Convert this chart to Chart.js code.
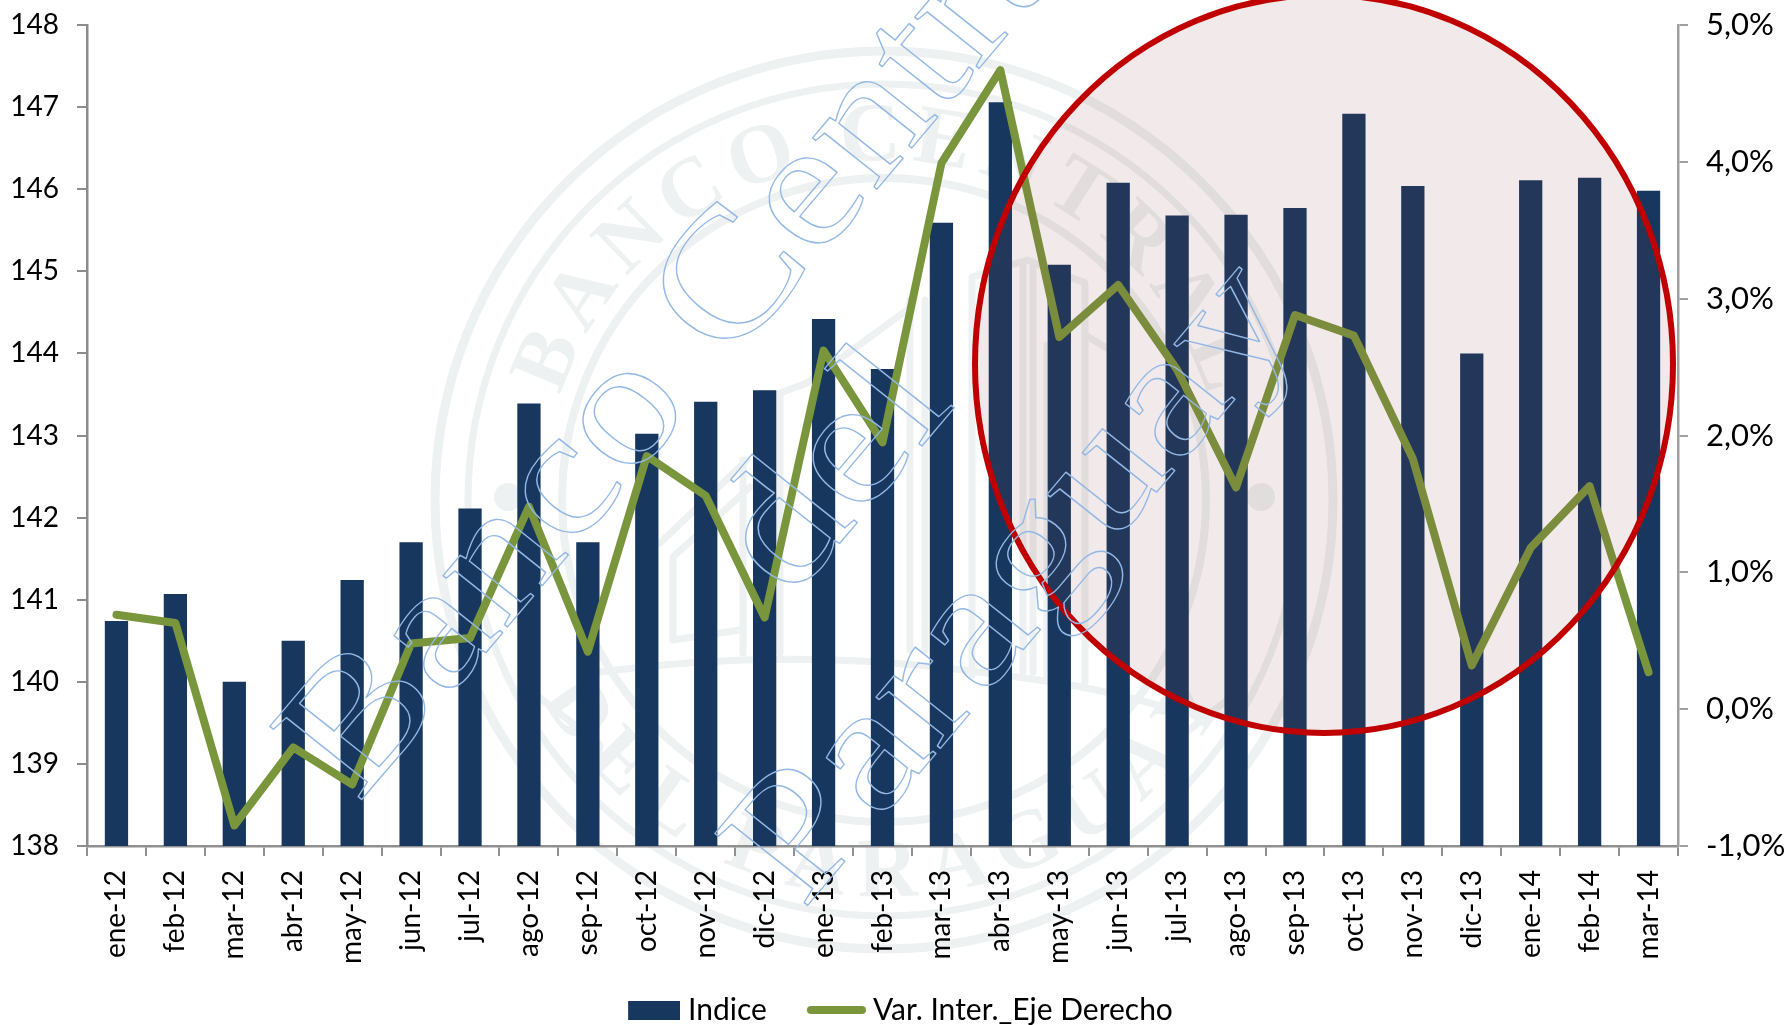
<!DOCTYPE html>
<html><head><meta charset="utf-8">
<style>html,body{margin:0;padding:0;background:#fff}#w{width:1792px;height:1025px}</style>
<script src="https://cdn.jsdelivr.net/npm/chart.js@4"></script></head>
<body><div id="w"><canvas id="c" width="1792" height="1025"></canvas></div>
<script>
const categories=["ene-12","feb-12","mar-12","abr-12","may-12","jun-12","jul-12","ago-12","sep-12","oct-12","nov-12","dic-12","ene-13","feb-13","mar-13","abr-13","may-13","jun-13","jul-13","ago-13","sep-13","oct-13","nov-13","dic-13","ene-14","feb-14","mar-14"];
const indice=[140.74,141.07,140.0,140.5,141.24,141.7,142.11,143.39,141.7,143.02,143.41,143.55,144.42,143.81,145.59,147.06,145.08,146.08,145.68,145.69,145.77,146.92,146.04,144.0,146.11,146.14,145.98];
const varInter=[0.69,0.63,-0.85,-0.28,-0.55,0.48,0.52,1.48,0.42,1.85,1.56,0.67,2.62,1.95,3.99,4.67,2.72,3.10,2.48,1.62,2.88,2.73,1.83,0.32,1.18,1.63,0.27];
const seriesNames=["Indice","Var. Inter._Eje Derecho"];
const FONT='Lato, "Noto Sans", sans-serif';
const SEAL='#edf1f1';
const NAVY='#17375e',GREEN='#7a963c';

function swatch(w,h,pad,color,round){
  const s=document.createElement('canvas');s.width=w+pad;s.height=h;
  const c=s.getContext('2d');c.fillStyle=color;
  if(round){c.strokeStyle=color;c.lineWidth=h;c.lineCap='round';c.beginPath();c.moveTo(pad+h/2,h/2);c.lineTo(pad+w-h/2,h/2);c.stroke();}
  else c.fillRect(pad,0,w,h);
  return s;
}
function arcText(ctx,text,cx,cy,r,midDeg,spread,bottom){
  let widths=[...text].map(t=>ctx.measureText(t).width+10);
  const tot=widths.reduce((a,b)=>a+b,0);let acc=0;
  [...text].forEach((t,i)=>{
    const frac=(acc+widths[i]/2)/tot-0.5;acc+=widths[i];
    const a=(midDeg+(bottom?-1:1)*frac*spread)*Math.PI/180;
    ctx.save();ctx.translate(cx+r*Math.sin(a),cy-r*Math.cos(a));
    ctx.rotate(bottom?a+Math.PI:a);ctx.textAlign='center';ctx.textBaseline='alphabetic';
    ctx.fillText(t,0,0);ctx.restore();
  });
}
const sealPlugin={id:'seal',beforeDraw(ch){
  const c=ch.ctx,cx=884,cy=500;
  c.save();c.fillStyle='#fff';c.fillRect(0,0,1792,1025);
  c.strokeStyle=SEAL;c.fillStyle=SEAL;c.lineCap='round';c.lineJoin='round';
  [[449,9],[416,7],[322,8]].forEach(([r,w])=>{c.lineWidth=w;c.beginPath();c.arc(cx,cy,r,0,7);c.stroke();});
  c.beginPath();c.arc(508,497,14,0,7);c.fill();c.beginPath();c.arc(1261,497,14,0,7);c.fill();
  c.font='bold 84px "Liberation Serif"';
  arcText(c,"BANCO CENTRAL",cx,cy,340,0,146,false);
  arcText(c,"DEL PARAGUAY",cx,cy,396,180,122,true);
  c.lineWidth=7;
  const lines=[
   [[673,640],[673,557],[750,487]],[[673,640],[740,630]],
   [[660,543],[747,460]],[[743,460],[743,653]],[[780,393],[780,653]],
   [[780,393],[807,383],[907,310]],[[910,300],[910,650]],[[925,300],[925,650]],
   [[972,675],[972,277],[1027,260],[1085,283],[1085,682]],[[1023,262],[1023,672]],[[1033,262],[1033,672]],
   [[1047,345],[1047,675]],[[1085,335],[1110,350]],
   [[530,690],[600,745],[590,800]],[[1240,690],[1170,745],[1180,800]]];
  lines.forEach(p=>{c.beginPath();p.forEach((q,i)=>i?c.lineTo(q[0],q[1]):c.moveTo(q[0],q[1]));c.stroke();});
  c.beginPath();c.moveTo(600,672);c.quadraticCurveTo(800,645,1000,675);c.quadraticCurveTo(1100,686,1180,712);c.stroke();
  c.lineCap='butt';c.lineWidth=9;c.setLineDash([14,10]);c.beginPath();c.moveTo(1066,355);c.lineTo(1066,640);c.stroke();c.setLineDash([]);
  c.restore();
}};
const overlayPlugin={id:'overlay',
 afterLayout(ch){ch.scales.x.bottom+=40;},
 afterDraw(ch){
  const c=ch.ctx;c.save();
  c.beginPath();c.ellipse(1324,364,349,369,0,0,7);
  c.fillStyle='rgba(135,60,60,0.108)';c.fill();
  c.lineWidth=6;c.strokeStyle='#c00000';c.stroke();
  c.strokeStyle='#93b8e5';c.lineWidth=1.3;c.font='180px "Liberation Serif"';c.textBaseline='alphabetic';c.textAlign='left';c.lineJoin='round';
  [["Banco Central",358,804,1.135],["del",791,601,1.17],["Paraguay",803,911,1.16]].forEach(([t,x,y,s])=>{
    c.save();c.transform(0.645*s,-0.764*s,0.78,0.62,x,y);c.strokeText(t,0,0);c.restore();});
  c.restore();
}};
const zeroPad=s=>{s.paddingTop=0;s.paddingBottom=0;s.paddingLeft=0;s.paddingRight=0;};
new Chart(document.getElementById('c'),{
  data:{labels:categories,datasets:[
    {type:'bar',label:seriesNames[0],data:indice,backgroundColor:NAVY,borderColor:NAVY,yAxisID:'y',order:2,barPercentage:0.395,categoryPercentage:1,pointStyle:swatch(52,19,16,NAVY,false)},
    {type:'line',label:seriesNames[1],data:varInter,borderColor:GREEN,backgroundColor:GREEN,borderWidth:8,pointRadius:0,tension:0,yAxisID:'y2',order:1,borderJoinStyle:'round',borderCapStyle:'round',pointStyle:swatch(59,8,11,GREEN,true)}
  ]},
  plugins:[sealPlugin,overlayPlugin],
  options:{responsive:false,animation:false,events:[],
    layout:{padding:{left:0,right:0,top:25,bottom:-10}},
    plugins:{tooltip:{enabled:false},title:{display:false},
      legend:{position:'bottom',labels:{font:{family:FONT,size:30},color:'#000',usePointStyle:true,pointStyleWidth:54,padding:37,
        generateLabels(ch){return ch.data.datasets.map((d,i)=>({text:d.label,fillStyle:d.backgroundColor,strokeStyle:d.borderColor,lineWidth:0,pointStyle:d.pointStyle,datasetIndex:i}));}}}},
    scales:{
      x:{type:'category',offset:true,grid:{drawOnChartArea:false,drawTicks:true,tickLength:10,color:'#909090',lineWidth:2,offset:true},
        border:{color:'#909090',width:2.5},
        ticks:{font:{family:FONT,size:28},color:'#000',minRotation:90,maxRotation:90,autoSkip:false,padding:14},
        afterFit(s){s.height=112;zeroPad(s);}},
      y:{type:'linear',position:'left',min:138,max:148,grid:{drawOnChartArea:false,tickLength:10,color:'#8c8c8c',lineWidth:2},
        border:{color:'#8c8c8c',width:2.5},
        ticks:{font:{family:FONT,size:28},color:'#000',stepSize:1,padding:18},
        afterFit(s){s.width=87;zeroPad(s);}},
      y2:{type:'linear',position:'right',min:-1,max:5,grid:{drawOnChartArea:false,tickLength:10,color:'#a0a0a0',lineWidth:2},
        border:{color:'#a0a0a0',width:2.5},
        ticks:{font:{family:FONT,size:31},color:'#000',stepSize:1,padding:18,callback:v=>v.toFixed(1).replace('.',',')+'%'},
        afterFit(s){s.width=114;zeroPad(s);}}
    }}
});
</script></body></html>
